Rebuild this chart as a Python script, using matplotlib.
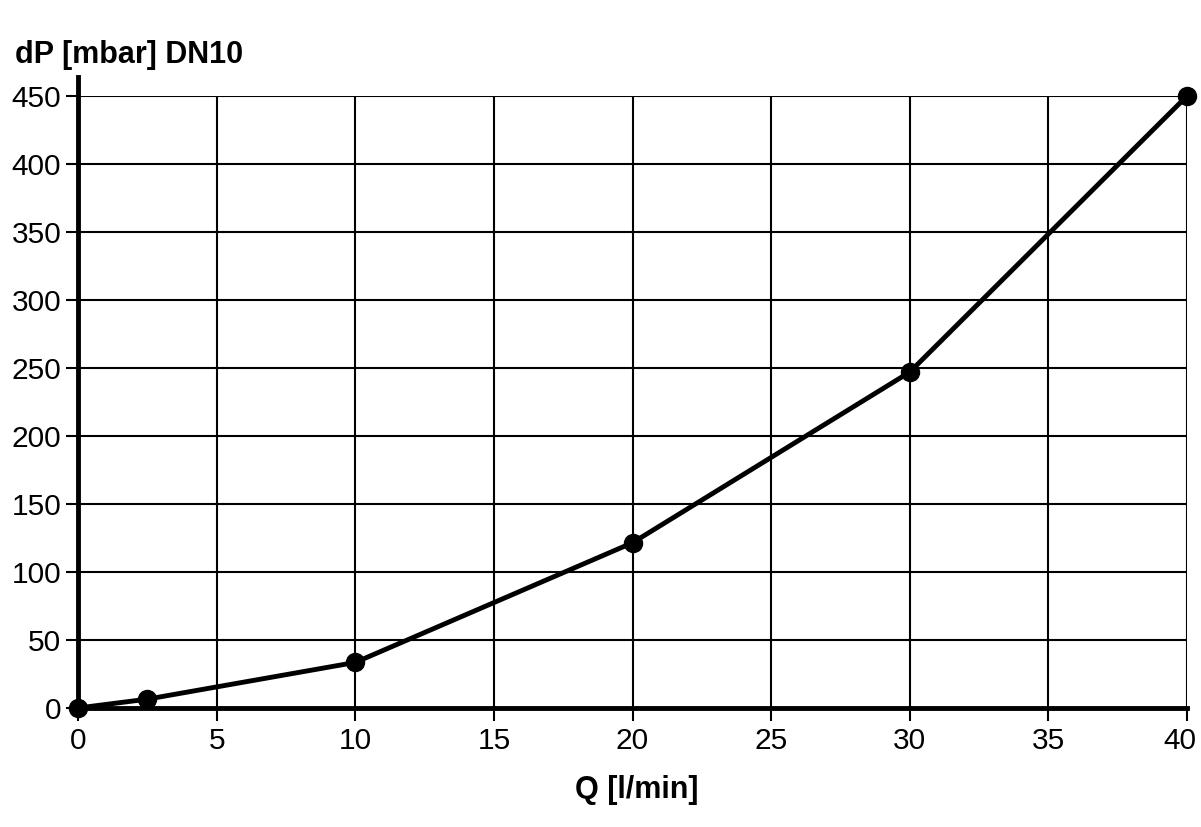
import matplotlib.pyplot as plt
import matplotlib.transforms as mtransforms

plt.rcParams['font.family'] = ['Liberation Sans', 'DejaVu Sans']

# data
flow = [0, 2.5, 10, 20, 30, 40]
dp = [0, 6.5, 33.5, 121.5, 247, 450]
xticks = [0, 5, 10, 15, 20, 25, 30, 35, 40]
yticks = [0, 50, 100, 150, 200, 250, 300, 350, 400, 450]

fig = plt.figure(figsize=(12.01, 8.27), dpi=100)
ax = fig.add_axes([78 / 1201, 119 / 827, 1109 / 1201, 612 / 827])

ax.set_xlim(0, 40)
ax.set_ylim(0, 450)
ax.set_xticks(xticks)
ax.set_yticks(yticks)
ax.grid(True, color='black', linewidth=1.5)
ax.set_axisbelow(True)

for s in ['top', 'right', 'left']:
    ax.spines[s].set_visible(False)
ax.spines['bottom'].set_linewidth(3.5)
ax.spines['bottom'].set_zorder(3)

# thick left axis running slightly above the top gridline
ax.plot([0, 0], [0, 464], color='black', linewidth=3.5, clip_on=False, zorder=3)

ax.tick_params(axis='both', length=9, width=1.5, labelsize=21.5, colors='black')
ax.tick_params(axis='x', pad=5)
ax.tick_params(axis='y', pad=3)

# nudge the last x label inward so it stays inside the picture
last = ax.get_xticklabels()[-1]
last.set_transform(last.get_transform() +
                   mtransforms.ScaledTranslation(-7 / 100, 0, fig.dpi_scale_trans))

ax.plot(flow, dp, color='black', linewidth=3.5, marker='o', markersize=13,
        clip_on=False, zorder=4)

fig.text(15 / 1201, 1 - 55 / 827, 'dP [mbar] DN10', fontsize=22, fontweight='bold',
         va='center', ha='left')
fig.text(637 / 1201, 1 - 790 / 827, 'Q [l/min]', fontsize=22, fontweight='bold',
         va='center', ha='center')

fig.savefig('out.png', dpi=100)
